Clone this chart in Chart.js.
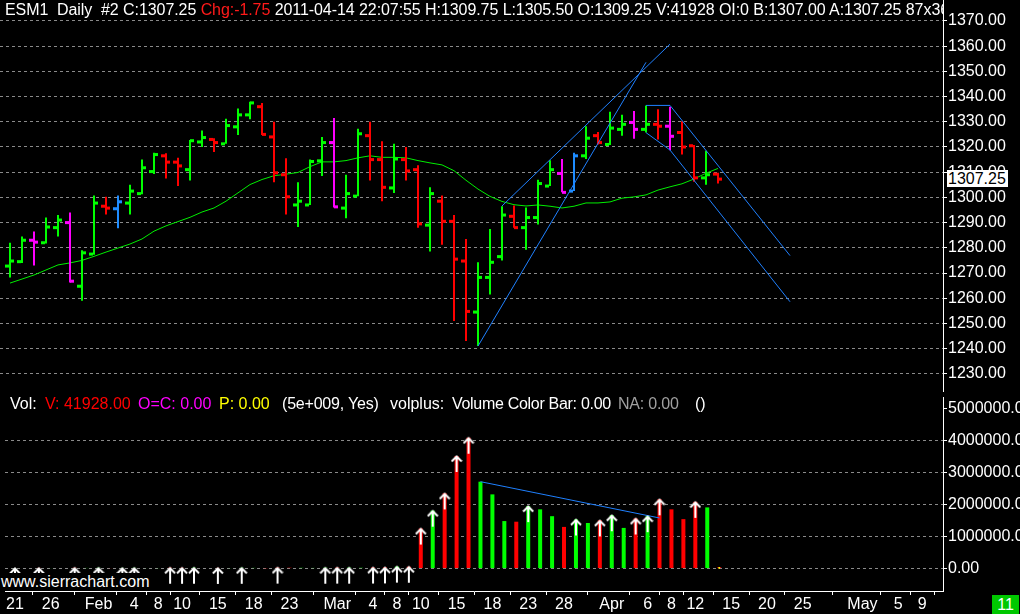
<!DOCTYPE html>
<html><head><meta charset="utf-8">
<script src="https://cdn.jsdelivr.net/npm/chart.js@4.4.1/dist/chart.umd.min.js"></script>
<style>
html,body{margin:0;padding:0;background:#000;width:1020px;height:614px;overflow:hidden;font-family:'Liberation Sans',Arial,sans-serif;font-size:16px;}
.abs{position:absolute;white-space:pre;line-height:18px;z-index:5;color:#fff;}
canvas{position:absolute;left:0;}
</style></head><body>
<canvas id="pc" width="1020" height="392" style="top:0"></canvas>
<canvas id="vc" width="1020" height="222" style="top:392px"></canvas>

<div class="abs" style="left:5px;top:1px;width:938px;overflow:hidden;letter-spacing:-0.07px">ESM1  Daily  #2 C:1307.25 <span style="color:#ff1a1a">Chg:-1.75</span> 2011-04-14 22:07:55 H:1309.75 L:1305.50 O:1309.25 V:41928 OI:0 B:1307.00 A:1307.25 87x36</div>
<div class="abs" style="left:947px;top:170px;width:60px;height:17px;background:#fff;color:#000;line-height:17px;padding-left:1px">1307.25</div>

<div class="abs" style="left:10px;top:395px">Vol:</div>
<div class="abs" style="left:45px;top:395px;color:#ff0000">V: 41928.00</div>
<div class="abs" style="left:138px;top:395px;color:#ff00ff">O=C: 0.00</div>
<div class="abs" style="left:219px;top:395px;color:#ffff00">P: 0.00</div>
<div class="abs" style="left:282px;top:395px;letter-spacing:-0.2px">(5e+009, Yes)</div>
<div class="abs" style="left:390px;top:395px">volplus:</div>
<div class="abs" style="left:452px;top:395px;letter-spacing:-0.3px">Volume Color Bar: 0.00</div>
<div class="abs" style="left:618px;top:395px;color:#a0a0a0;letter-spacing:-0.2px">NA: 0.00</div>
<div class="abs" style="left:695px;top:395px">()</div>

<div class="abs" style="left:0px;top:573px;height:18px;background:#000;padding-left:1px;padding-right:2px">www.sierrachart.com</div>
<div class="abs" style="left:992px;top:595px;width:27px;height:19px;background:#00c800;text-align:center;line-height:19px">11</div>

<script>
// ---------------- DATA ----------------
const barDates = ['2011-01-21','2011-01-24','2011-01-25','2011-01-26','2011-01-27','2011-01-28','2011-01-31',
'2011-02-01','2011-02-02','2011-02-03','2011-02-04','2011-02-07','2011-02-08','2011-02-09','2011-02-10','2011-02-11',
'2011-02-14','2011-02-15','2011-02-16','2011-02-17','2011-02-18','2011-02-21','2011-02-22','2011-02-23','2011-02-24','2011-02-25','2011-02-28',
'2011-03-01','2011-03-02','2011-03-03','2011-03-04','2011-03-07','2011-03-08','2011-03-09','2011-03-10','2011-03-11',
'2011-03-14','2011-03-15','2011-03-16','2011-03-17','2011-03-18','2011-03-21','2011-03-22','2011-03-23','2011-03-24','2011-03-25',
'2011-03-28','2011-03-29','2011-03-30','2011-03-31','2011-04-01','2011-04-04','2011-04-05','2011-04-06','2011-04-07','2011-04-08',
'2011-04-11','2011-04-12','2011-04-13','2011-04-14'];
const futureDates = ['2011-04-15','2011-04-18','2011-04-19','2011-04-20','2011-04-21','2011-04-22','2011-04-25','2011-04-26',
'2011-04-27','2011-04-28','2011-04-29','2011-05-02','2011-05-03','2011-05-04','2011-05-05','2011-05-06','2011-05-09','2011-05-10'];

const opens  = [1272.75,1274.50,1283.00,1282.00,1288.00,1290.00,1264.75,1277.50,1296.50,1295.50,1297.75,1301.50,1310.25,1316.50,1314.00,1311.00,
1322.00,1323.00,1321.25,1328.00,1332.75,1336.00,1324.00,1309.00,1297.00,1297.00,1314.50,1321.75,1295.75,1300.50,1324.50,1315.00,1303.75,1315.00,
1311.00,1289.00,1298.50,1290.50,1274.75,1254.50,1268.25,1276.50,1292.50,1288.00,1292.00,1304.50,1309.50,1302.50,1316.50,1324.50,1321.00,1327.00,
1329.75,1327.00,1329.00,1328.25,1325.75,1320.50,1307.75,1309.25];
const highs  = [1282.00,1284.50,1286.50,1292.00,1293.00,1294.00,1279.00,1300.75,1300.25,1300.75,1305.00,1315.00,1317.75,1317.50,1315.75,1322.75,
1326.50,1323.50,1331.25,1335.25,1338.00,1337.50,1330.00,1315.50,1306.00,1315.00,1324.00,1331.50,1309.00,1327.25,1330.00,1322.25,1321.25,1320.00,
1312.75,1304.00,1300.75,1293.00,1283.50,1274.25,1287.50,1296.50,1296.75,1296.00,1307.00,1314.75,1315.25,1317.75,1328.25,1326.00,1334.00,1332.75,
1334.25,1336.50,1335.00,1336.00,1330.25,1320.75,1318.50,1309.75];
const lows   = [1268.25,1274.00,1273.00,1281.75,1284.50,1266.25,1259.00,1277.25,1293.25,1287.75,1293.25,1301.25,1309.25,1307.50,1304.50,1306.75,
1320.00,1318.00,1321.25,1324.75,1331.00,1324.75,1306.00,1293.25,1288.25,1297.00,1308.50,1296.00,1291.75,1300.50,1306.75,1298.50,1301.75,1306.75,
1288.00,1278.50,1281.25,1251.00,1243.00,1241.00,1261.50,1275.00,1288.00,1279.25,1289.25,1304.50,1302.00,1302.50,1315.25,1321.00,1320.75,1324.50,
1323.25,1325.75,1323.00,1318.75,1317.00,1306.25,1305.00,1305.50];
const closes = [1274.75,1283.00,1282.25,1288.25,1291.00,1266.75,1278.00,1297.75,1295.75,1298.25,1302.50,1311.75,1317.00,1314.00,1312.50,1322.50,
1323.75,1321.75,1328.50,1332.75,1337.50,1325.00,1309.75,1300.25,1298.50,1314.25,1321.75,1296.25,1301.50,1325.25,1315.00,1304.00,1315.25,1310.50,
1289.50,1301.50,1290.50,1275.50,1254.75,1268.25,1274.25,1293.00,1288.00,1292.00,1305.50,1311.00,1302.00,1316.50,1323.50,1321.75,1327.50,1329.00,
1327.00,1329.00,1328.25,1324.25,1320.00,1307.75,1309.00,1307.25];
// bar colour codes as shown: g = green, r = red, m = magenta, b = blue
const barColorCodes = ['g','g','m','g','g','m','g','g','r','b','g','g','g','r','r','g','g','r','g','g','g','r','r','r','g','g','g','m','g','g',
'r','r','g','r','r','g','r','r','r','g','g','g','r','g','g','g','m','b','g','r','g','g','m','g','r','m','r','r','g','r'];
const movingAvg = [1266.0,1267.6,1269.2,1271.2,1273.2,1274.0,1275.0,1276.6,1278.3,1279.9,1281.5,1283.5,1286.6,1288.7,1290.4,1292.1,
1294.2,1295.8,1298.5,1301.8,1305.1,1307.1,1308.6,1309.2,1309.9,1312.2,1314.1,1314.1,1314.6,1315.7,1316.5,1315.9,1315.9,1315.7,
1314.6,1313.7,1312.9,1310.6,1306.8,1303.3,1300.4,1298.4,1297.1,1296.6,1297.0,1296.5,1295.8,1296.5,1297.8,1297.8,1298.2,1299.7,
1300.2,1301.0,1302.9,1304.2,1305.4,1307.3,1309.6,1311.5];
const volumes = [18000,15000,22000,14000,16000,25000,20000,24000,19000,21000,23000,17000,18000,26000,24000,27000,16000,22000,19000,25000,
21000,9000,30000,26000,23000,20000,27000,31000,29000,24000,33000,36000,62000,58000,
1254000,1815000,2355000,3527000,4098000,2722000,2324000,1488000,1468000,1957000,1855000,1641000,1305000,1539000,1427000,1509000,
1672000,1274000,1570000,1641000,2171000,1855000,1549000,2090000,1916000,41928];
const arrowBars = [0,2,5,7,9,10,13,14,15,17,19,22,26,27,28,30,31,32,33,34,35,36,37,38,43,47,49,50,52,53,54,57];

const priceTicks = [1230,1240,1250,1260,1270,1280,1290,1300,1310,1320,1330,1340,1350,1360,1370];
const volumeTicks = [0,1000000,2000000,3000000,4000000,5000000];
const xTickDates = ['2011-01-21','2011-01-26','2011-02-01','2011-02-04','2011-02-08','2011-02-10','2011-02-15','2011-02-18','2011-02-23',
'2011-03-01','2011-03-04','2011-03-08','2011-03-10','2011-03-15','2011-03-18','2011-03-23','2011-03-28','2011-04-01','2011-04-06',
'2011-04-08','2011-04-12','2011-04-15','2011-04-20','2011-04-25','2011-05-02','2011-05-05','2011-05-09'];
const xTickLabels = ['21','26','Feb','4','8','10','15','18','23','Mar','4','8','10','15','18','23','28','Apr','6','8','12','15','20','25','May','5','9'];

// user-drawn lines: [date, price]
const priceLines = [
  [['2011-03-17',1241.0],['2011-04-06',1353.6]],
  [['2011-03-21',1296.6],['2011-04-08',1360.8]],
  [['2011-04-06',1336.5],['2011-04-08',1336.5],['2011-04-22',1276.9]],
  [['2011-04-06',1325.7],['2011-04-08',1318.8],['2011-04-22',1258.6]]
];
const volumeLine = [['2011-03-17',2722000],['2011-04-07',1585000]];

// ---------------- CHARTS ----------------
const allDates = barDates.concat(futureDates);
const idx = d => allDates.indexOf(d);
const COL = {g:'#00ff00', r:'#ff0000', m:'#ff00ff', b:'#1e8cff'};
const barCols = barColorCodes.map(c => COL[c]);
const BLUE = '#1f80ff';
const GRID = '#8a8a8a';
const FONT = {family:"'Liberation Sans', Arial, sans-serif", size:16};
Chart.defaults.font = FONT;
Chart.defaults.color = '#ffffff';

const X_MIN = -10/12, X_MAX = X_MIN + 943/12;

function fixY(s){ s.width = 77; s.paddingTop = 0; s.paddingBottom = 0; }

const common = {
  responsive:false, animation:false, devicePixelRatio:1, events:[],
  layout:{padding:0},
  plugins:{legend:{display:false}, tooltip:{enabled:false}}
};

const priceDatasets = [
  {type:'line', data: movingAvg.map((v,i)=>({x:i,y:v})), borderColor:'#00ee00', borderWidth:1, pointRadius:0, order:3},
  {type:'bar', data: highs.map((h,i)=>({x:i,y:[lows[i],h]})), backgroundColor:barCols, barThickness:2, grouped:false, inflateAmount:0, order:2},
  {type:'bar', data: opens.map((o,i)=>({x:i-0.25,y:[o-0.6,o+0.6]})), backgroundColor:barCols, barThickness:4, grouped:false, inflateAmount:0, order:1},
  {type:'bar', data: closes.map((c,i)=>({x:i+1/6,y:[c-0.6,c+0.6]})), backgroundColor:barCols, barThickness:4, grouped:false, inflateAmount:0, order:1}
];
priceLines.forEach(l => priceDatasets.push({type:'line', data:l.map(p=>({x:idx(p[0]),y:p[1]})), borderColor:BLUE, borderWidth:1, pointRadius:0, order:0}));

new Chart(document.getElementById('pc'), {
  type:'bar',
  data:{datasets:priceDatasets},
  options:Object.assign({}, common, {
    scales:{
      x:{type:'linear', display:false, min:X_MIN, max:X_MAX, offset:false},
      y:{type:'linear', position:'right', min:1370-371/2.52, max:1370+21/2.52,
         afterBuildTicks: s => { s.ticks = priceTicks.map(v=>({value:v})); },
         afterFit: fixY,
         ticks:{callback: v => v.toFixed(2), padding:1, color:'#fff', font:FONT},
         grid:{color:GRID, tickColor:'#fff', tickLength:4, lineWidth:1},
         border:{display:true, color:'#fff', width:1, dash:[3,3]}
      }
    }
  })
});

// arrow marker image: tip at the centre
function makeArrow(){
  const c = document.createElement('canvas'); c.width = 12; c.height = 34;
  const g = c.getContext('2d'); g.strokeStyle = '#fff'; g.lineWidth = 2;
  g.beginPath(); g.moveTo(6,17); g.lineTo(6,33);
  g.moveTo(1,22.5); g.lineTo(6,17.5); g.lineTo(11,22.5); g.stroke();
  return c;
}
const arrowImg = makeArrow();

const volDatasets = [
  {type:'bar', data: volumes.map((v,i)=>({x:i,y:v})), backgroundColor: volumes.map((v,i)=> closes[i]>=opens[i] ? '#00ff00' : '#ff0000'),
   barThickness:4, grouped:false, inflateAmount:0, order:2},
  {type:'line', data: arrowBars.map(i=>({x:i,y:volumes[i]})), showLine:false, pointStyle:arrowImg, pointRadius:4, order:0},
  {type:'line', data: volumeLine.map(p=>({x:idx(p[0]),y:p[1]})), borderColor:BLUE, borderWidth:1, pointRadius:0, order:1},
  {type:'line', data:[{x:barDates.length-1, y:volumes[barDates.length-1]/2}], showLine:false, pointStyle:'rect', pointRadius:1.2,
   backgroundColor:'#ffff00', borderWidth:0, order:0}
];

new Chart(document.getElementById('vc'), {
  type:'bar',
  data:{datasets:volDatasets},
  options:Object.assign({}, common, {
    scales:{
      x:{type:'linear', position:'bottom', min:X_MIN, max:X_MAX, offset:false,
         afterBuildTicks: s => { s.ticks = xTickDates.map(d=>({value:idx(d)})); },
         afterFit: s => { s.height = 23; s.paddingLeft = 0; s.paddingRight = 0; },
         ticks:{autoSkip:false, maxRotation:0, padding:0, color:'#fff', font:FONT,
                callback:(v,i)=> xTickLabels[i]},
         grid:{display:true, drawOnChartArea:false, tickColor:'#fff', tickLength:4},
         border:{display:true, color:'#fff', width:1}
      },
      y:{type:'linear', position:'right', min:-23/32.75*1e6, max:176/32.75*1e6,
         afterBuildTicks: s => { s.ticks = volumeTicks.map(v=>({value:v})); },
         afterFit: fixY,
         ticks:{callback: v => v.toFixed(2), padding:1, color:'#fff', font:FONT},
         grid:{color: c => (c.tick && c.tick.value === 5000000) ? 'rgba(0,0,0,0)' : GRID, tickColor:'#fff', tickLength:4, lineWidth:1},
         border:{display:true, color:'#fff', width:1, dash:[3,3]}
      }
    }
  })
});
</script>
</body></html>
